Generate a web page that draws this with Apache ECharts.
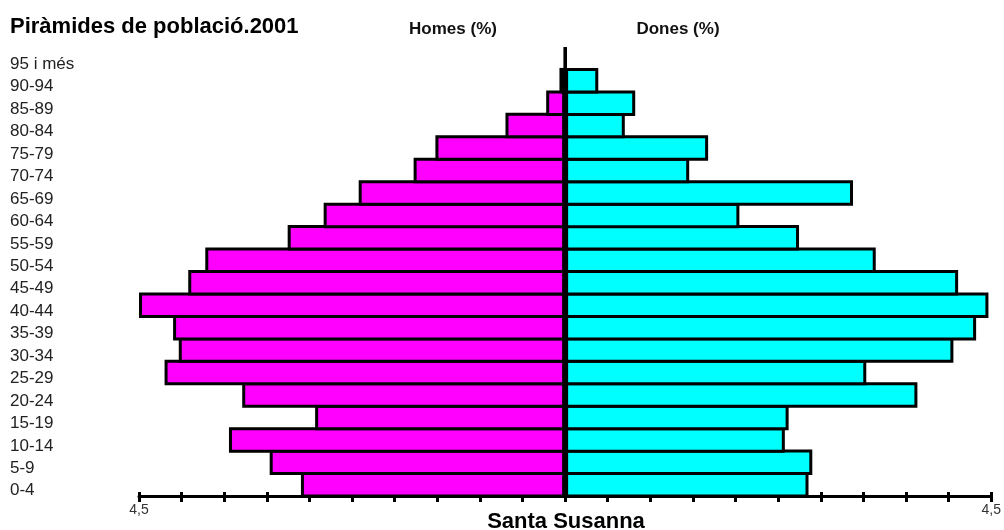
<!DOCTYPE html>
<html>
<head>
<meta charset="utf-8">
<script src="https://cdn.jsdelivr.net/npm/echarts@6/dist/echarts.min.js"></script>
<style>
  html, body { margin: 0; padding: 0; background: #fff; }
  #chart { width: 1004px; height: 530px; }
</style>
</head>
<body>
<div id="chart"></div>
<script>
// Age groups, bottom to top
const ageGroups = ['0-4', '5-9', '10-14', '15-19', '20-24', '25-29', '30-34', '35-39', '40-44',
  '45-49', '50-54', '55-59', '60-64', '65-69', '70-74', '75-79', '80-84', '85-89', '90-94', '95 i més']
// percentages
const homes = [2.79, 3.12, 3.55, 2.64, 3.41, 4.23, 4.08, 4.14, 4.50,
  3.98, 3.80, 2.93, 2.55, 2.18, 1.60, 1.37, 0.63, 0.20, 0.06, 0]
const dones = [2.57, 2.61, 2.32, 2.36, 3.72, 3.18, 4.10, 4.34, 4.47,
  4.15, 3.28, 2.47, 1.84, 3.04, 1.31, 1.51, 0.63, 0.74, 0.35, 0]
const axisMax = 4.5
const tickStep = 0.45

const FONT = 'Liberation Sans, Arial, sans-serif'
const chart = echarts.init(document.getElementById('chart'), null, { renderer: 'canvas' })

// bars are a bit taller than the band so neighbouring borders merge into one line
const barBorder = { borderColor: '#000', borderWidth: 3 }
const BAR_W = 25.5
const isEnd = v => Math.abs(Math.abs(v) - axisMax) < 1e-6

chart.setOption({
  animation: false,
  textStyle: { fontFamily: FONT },
  title: [
    { text: 'Piràmides de població.2001', left: 5, top: 11,
      textStyle: { fontSize: 22, fontWeight: 'bold', color: '#000', fontFamily: FONT } },
    { text: 'Homes (%)', left: 448, top: 16, textAlign: 'center',
      textStyle: { fontSize: 17, fontWeight: 'bold', color: '#111', fontFamily: FONT } },
    { text: 'Dones (%)', left: 673, top: 16, textAlign: 'center',
      textStyle: { fontSize: 17, fontWeight: 'bold', color: '#111', fontFamily: FONT } },
    { text: 'Santa Susanna', left: 561, top: 506, textAlign: 'center',
      textStyle: { fontSize: 22, fontWeight: 'bold', color: '#000', fontFamily: FONT } },
  ],
  grid: { left: 139, right: 11, top: 47, bottom: 34, containLabel: false },
  xAxis: [
    {
      type: 'value', min: -axisMax, max: axisMax, interval: tickStep,
      axisLine: { show: true, onZero: false, lineStyle: { color: '#000', width: 3 } },
      axisTick: { show: true, length: 6, lineStyle: { color: '#000', width: 3 } },
      splitLine: { show: false },
      axisLabel: {
        showMinLabel: true, showMaxLabel: true, margin: 7,
        color: '#333', fontSize: 14, fontFamily: FONT,
        formatter: v => isEnd(v) ? '4,5' : '',
      },
    },
    {
      type: 'value', min: -axisMax, max: axisMax, interval: tickStep, position: 'bottom',
      axisLine: { show: false },
      axisTick: { show: true, inside: true, length: 4, lineStyle: { color: '#000', width: 3 } },
      splitLine: { show: false },
      axisLabel: { show: false },
    },
  ],
  yAxis: {
    type: 'category', data: ageGroups,
    axisLine: { show: false }, axisTick: { show: false },
    axisLabel: {
      align: 'left', verticalAlign: 'top', lineHeight: 12, margin: 129,
      color: '#222', fontSize: 17, fontFamily: FONT,
    },
  },
  series: [
    {
      name: 'Homes', type: 'bar', data: homes.map(v => -v),
      barWidth: BAR_W, barGap: '-100%',
      itemStyle: { color: '#ff00ff', ...barBorder },
    },
    {
      name: 'Dones', type: 'bar', data: dones,
      barWidth: BAR_W, barGap: '-100%',
      itemStyle: { color: '#00ffff', ...barBorder },
      markLine: {
        silent: true, symbol: 'none', label: { show: false },
        lineStyle: { color: '#000', width: 3, type: 'solid' },
        data: [{ xAxis: 0 }],
      },
    },
  ],
})
</script>
</body>
</html>
